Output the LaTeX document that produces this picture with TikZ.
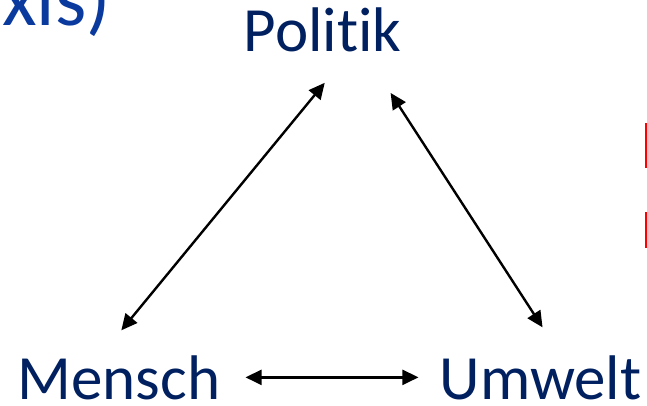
\documentclass[tikz,border=0pt]{standalone}
\usepackage{fontspec}
\setmainfont{Carlito}[Ligatures=NoCommon]
\usepackage{xcolor}
\usepackage{tikz}
\usetikzlibrary{arrows.meta}
\definecolor{navy}{HTML}{002060}
\definecolor{titleblue}{HTML}{0A3A9E}

\begin{document}
\begin{tikzpicture}[x=1pt,y=1pt,
    label/.style={font=\fontsize{63}{72}\selectfont,text=navy,inner sep=0pt,anchor=base},
    link/.style={line width=2.4pt,{Triangle[length=16pt,width=15pt]}-{Triangle[length=16pt,width=15pt]}}]
  \useasboundingbox (0,0) rectangle (647,405);
  % cut-off pieces of the slide
  \node[font=\fontsize{80}{90}\selectfont,text=titleblue,inner sep=0pt,anchor=base west] (title) at (2,379) {xis)};
  \fill[red] (645,237) rectangle (646.5,282);
  \fill[red] (645,157) rectangle (646.5,193);
  % the three corners
  \node[label] (politik) at (322.5,353) {Politik};
  \node[label] (mensch) at (119,6) {Mensch};
  \node[label] (umwelt) at (540.5,6) {Umwelt};
  \draw[link,shorten <=32pt,shorten >=39pt] ([xshift=-18pt]mensch.north) -- ([xshift=27pt]politik.south);
  \draw[link,shorten <=48pt,shorten >=33pt] ([xshift=42pt]politik.south) -- ([xshift=20pt]umwelt.north);
  \draw[link,shorten <=25pt,shorten >=21pt] (mensch.east) -- (umwelt.west);
\end{tikzpicture}
\end{document}
